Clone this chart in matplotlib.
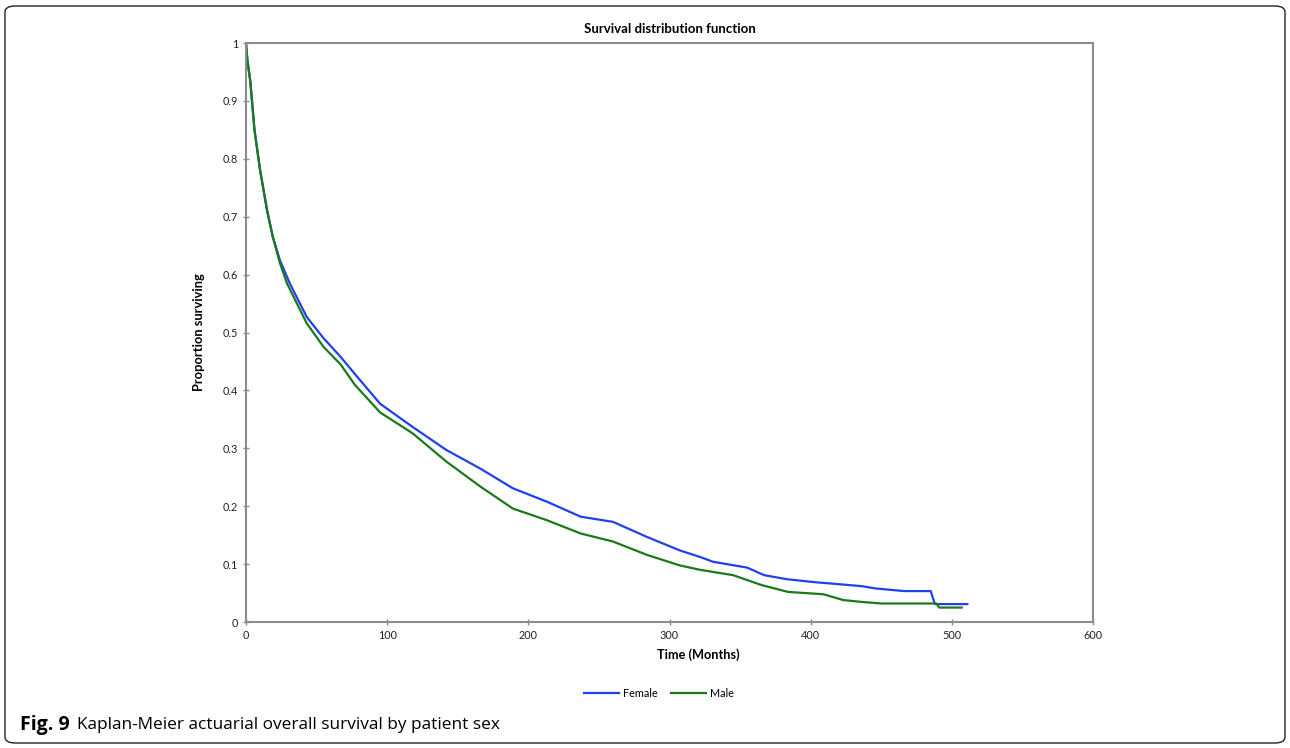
import matplotlib
matplotlib.use("Agg")
import matplotlib.pyplot as plt
from matplotlib.patches import FancyBboxPatch

# values (months, proportion surviving)
female_t = [0, 1, 3, 6, 10, 15, 19, 24, 31, 43, 55, 67, 80, 95, 118, 142, 166, 189, 213,
            237, 260, 284, 307, 322, 331, 355, 367, 383, 402, 412, 436, 446, 466, 485, 488, 511]
female_s = [1.0, 0.97, 0.935, 0.85, 0.78, 0.71, 0.665, 0.625, 0.585, 0.527, 0.49, 0.458, 0.42,
            0.377, 0.337, 0.297, 0.265, 0.231, 0.208, 0.182, 0.173, 0.147, 0.124, 0.112, 0.104,
            0.094, 0.081, 0.074, 0.069, 0.067, 0.062, 0.058, 0.0535, 0.0535, 0.031, 0.031]

male_t = [0, 1, 3, 6, 10, 15, 19, 24, 29, 43, 55, 67, 77, 95, 118, 142, 166, 189, 213, 237,
          260, 284, 307, 322, 345, 365, 384, 409, 423, 435, 450, 489, 491, 507]
male_s = [1.0, 0.97, 0.935, 0.85, 0.78, 0.71, 0.665, 0.62, 0.585, 0.516, 0.475, 0.445, 0.41,
          0.362, 0.326, 0.277, 0.234, 0.196, 0.176, 0.153, 0.139, 0.116, 0.098, 0.09, 0.081,
          0.064, 0.052, 0.048, 0.038, 0.035, 0.032, 0.032, 0.025, 0.025]

x_ticks = [0, 100, 200, 300, 400, 500, 600]
y_ticks = [0, 0.1, 0.2, 0.3, 0.4, 0.5, 0.6, 0.7, 0.8, 0.9, 1]
y_labels = ["0", "0.1", "0.2", "0.3", "0.4", "0.5", "0.6", "0.7", "0.8", "0.9", "1"]

plt.rcParams['font.family'] = ['Lato', 'DejaVu Sans']

fig = plt.figure(figsize=(12.9, 7.48), dpi=100)
ax = fig.add_axes([0.1907, 0.1684, 0.6566, 0.7741])

ax.plot(female_t, female_s, color='#2040f0', lw=1.6, label='Female')
ax.plot(male_t, male_s, color='#1a7a1a', lw=1.6, label='Male')

ax.set_xlim(0, 600)
ax.set_ylim(0, 1)
ax.set_xticks(x_ticks)
ax.set_yticks(y_ticks)
ax.set_yticklabels(y_labels)
for sp in ax.spines.values():
    sp.set_color('#8c8c8c')
    sp.set_linewidth(1.5)
ax.tick_params(direction='inout', length=5, width=1, color='#8c8c8c',
               labelsize=7.8, labelcolor='#222222', pad=3)

ax.set_title("Survival distribution function", fontsize=9.5, fontweight='bold', pad=7)
ax.set_xlabel("Time (Months)", fontsize=9.2, fontweight='bold', labelpad=5)
ax.xaxis.set_label_coords((698 - 246) / 847, -0.045)
ax.set_ylabel("Proportion surviving", fontsize=9.3, fontweight='bold', labelpad=13)

fig.legend(loc='center', bbox_to_anchor=(0.511, 0.073), ncol=2, frameon=False,
           fontsize=7.8, handlelength=3.2, columnspacing=1.2, handletextpad=0.4)

# rounded frame around the whole figure
frame = FancyBboxPatch((5 / 1290, 5 / 748), 1280 / 1290, 737 / 748,
                       boxstyle="round,pad=0,rounding_size=0.008",
                       transform=fig.transFigure, fill=False, ec='#222222', lw=1.0)
fig.patches.append(frame)

cap_y = 1 - 725 / 748
fig.text(20 / 1290, cap_y, "Fig. 9", fontsize=14, fontweight='bold',
         family=['Open Sans', 'DejaVu Sans'], va='center', ha='left')
fig.text(77 / 1290, cap_y, "Kaplan-Meier actuarial overall survival by patient sex",
         fontsize=12.4, family=['Open Sans', 'DejaVu Sans'], va='center', ha='left')

fig.savefig("out.png", dpi=100)
